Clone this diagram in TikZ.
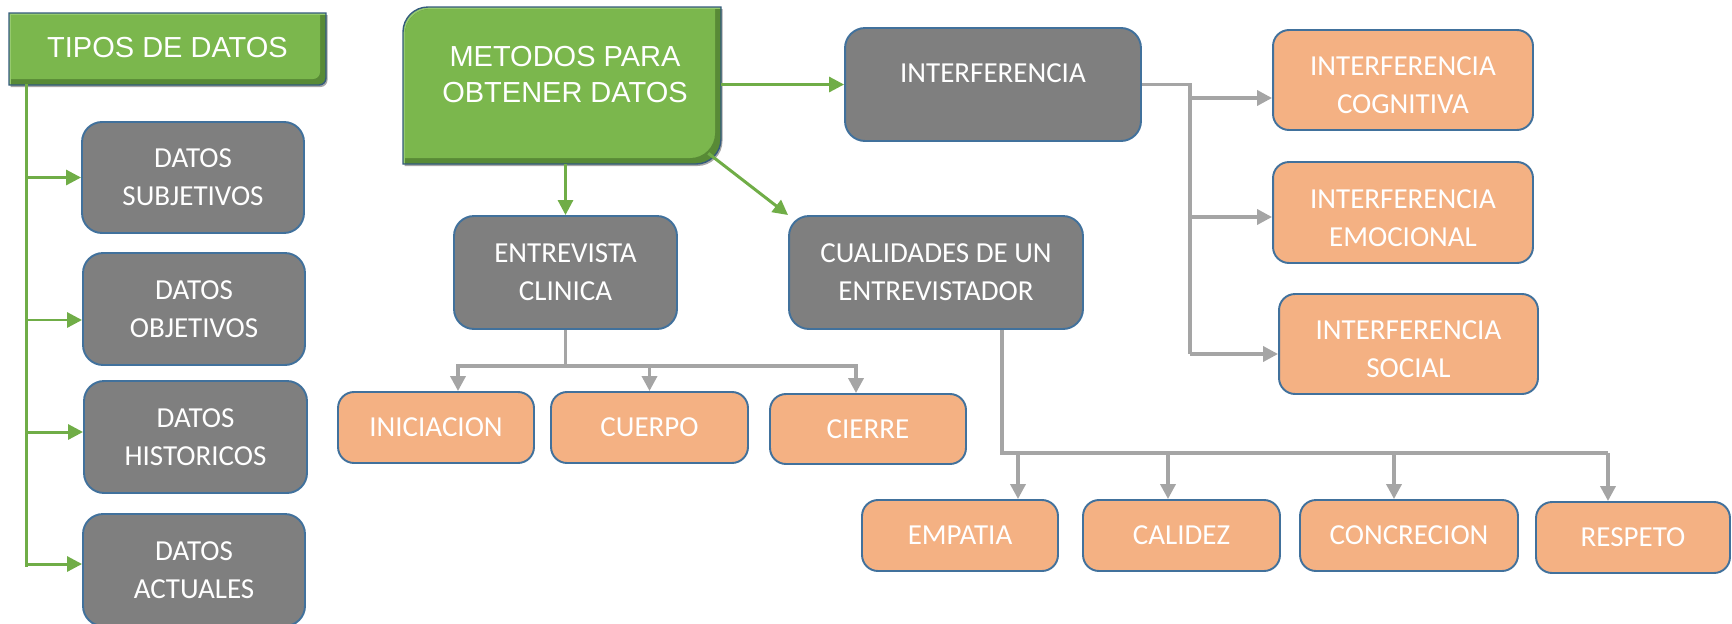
\documentclass[tikz,border=0pt]{standalone}
\usepackage{fontspec}
\setmainfont{Carlito}
\newfontfamily\arialfont{Liberation Sans}
\usetikzlibrary{arrows.meta}

\definecolor{boxgray}{RGB}{127,127,127}
\definecolor{peach}{RGB}{244,177,131}
\definecolor{boxborder}{RGB}{65,113,156}
\definecolor{greenmain}{RGB}{123,183,77}
\definecolor{greenlight}{RGB}{150,202,110}
\definecolor{greendark}{RGB}{88,138,54}
\definecolor{arrowgreen}{RGB}{112,173,71}
\definecolor{linegray}{RGB}{165,165,165}

\tikzset{
	box/.style={draw=boxborder, line width=1.1pt, text=white, align=center, inner sep=0pt,
		font=\fontsize{16.5}{21.6}\selectfont},
	graybox/.style={box, fill=boxgray, rounded corners=0.4cm},
	peachbox/.style={box, fill=peach, rounded corners=0.32cm},
	greentxt/.style={text=white, align=center, inner sep=0pt,
		font=\arialfont\fontsize{16.5}{20.5}\selectfont},
	greenline/.style={draw=arrowgreen, line width=1.7pt},
	greenarrow/.style={greenline, -{Triangle[length=0.3cm,width=0.3cm]}},
	grayline/.style={draw=linegray, line width=2pt},
	grayarrow/.style={grayline, -{Triangle[length=0.3cm,width=0.3cm]}}
}

% outlines of the two green title shapes
\newcommand{\tipospath}{(9,13) -- (326,13) -- (326,78) .. controls (326,81.9) and (322.9,85) .. (319,85) -- (9,85) -- cycle}
\newcommand{\metodospath}{(403,32) .. controls (403,18.2) and (414.2,7) .. (428,7) -- (721,7) -- (721,139) .. controls (721,152.8) and (709.8,164) .. (696,164) -- (403,164) -- cycle}
\newcommand{\bevelshape}[1]{%
	\fill[black, opacity=0.35, shift={(1.5,2)}] #1;
	\begin{scope}
		\clip #1;
		\fill[greenlight] #1;
		\fill[greendark, shift={(2,2)}] #1;
		\begin{scope}
			\clip[shift={(2,2)}] #1;
			\fill[greenmain, shift={(-6,-6)}] #1;
		\end{scope}
	\end{scope}
	\draw[boxborder!80!black, line width=0.8pt] #1;
}

\begin{document}
\begin{tikzpicture}[x=0.02cm, y=-0.02cm]
		\useasboundingbox (0,0) rectangle (1732,623);

		% green title shapes
		\bevelshape{\tipospath}
		\bevelshape{\metodospath}

		\node[greentxt, minimum width=6.34cm, minimum height=1.44cm] (tipos) at (167.5,48) {TIPOS DE DATOS};
		\node[minimum width=6.36cm, minimum height=3.14cm, inner sep=0pt] (metodos) at (562,85.5) {};
		\node[greentxt] (metodostxt) at (565,75) {METODOS PARA\\OBTENER DATOS};

		% left column
		\node[graybox, minimum width=4.44cm, minimum height=2.22cm] (subj) at (193,177.5) {DATOS\\SUBJETIVOS};
		\node[graybox, minimum width=4.44cm, minimum height=2.24cm] (obj) at (194,309) {DATOS\\OBJETIVOS};
		\node[graybox, minimum width=4.46cm, minimum height=2.24cm] (hist) at (195.5,437) {DATOS\\HISTORICOS};
		\node[graybox, minimum width=4.44cm, minimum height=2.24cm] (act) at (194,570) {DATOS\\ACTUALES};

		% second level
		\node[graybox, minimum width=5.92cm, minimum height=2.26cm, text height=10.6pt, text depth=13.1pt] (interf) at (993,84.5) {INTERFERENCIA};
		\node[graybox, minimum width=4.46cm, minimum height=2.26cm] (entrev) at (565.5,272.5) {ENTREVISTA\\CLINICA};
		\node[graybox, minimum width=5.88cm, minimum height=2.26cm] (cualid) at (936,272.5) {CUALIDADES DE UN\\ENTREVISTADOR};

		% interferencias
		\node[peachbox, minimum width=5.2cm, minimum height=2.0cm] (cogn) at (1403,80) {\rule{0pt}{17pt}INTERFERENCIA\\COGNITIVA};
		\node[peachbox, minimum width=5.2cm, minimum height=2.02cm] (emoc) at (1403,212.5) {\rule{0pt}{17pt}INTERFERENCIA\\EMOCIONAL};
		\node[peachbox, minimum width=5.18cm, minimum height=2.0cm] (social) at (1408.5,344) {\rule{0pt}{17pt}INTERFERENCIA\\SOCIAL};

		% partes de la entrevista
		\node[peachbox, minimum width=3.92cm, minimum height=1.42cm] (inic) at (436,427.5) {INICIACION};
		\node[peachbox, minimum width=3.94cm, minimum height=1.42cm] (cuerpo) at (649.5,427.5) {CUERPO};
		\node[peachbox, minimum width=3.92cm, minimum height=1.40cm] (cierre) at (868,429) {CIERRE};

		% cualidades
		\node[peachbox, minimum width=3.92cm, minimum height=1.42cm] (empatia) at (960,535.5) {EMPATIA};
		\node[peachbox, minimum width=3.94cm, minimum height=1.42cm] (calidez) at (1181.5,535.5) {CALIDEZ};
		\node[peachbox, minimum width=4.36cm, minimum height=1.42cm] (concrecion) at (1409,535.5) {CONCRECION};
		\node[peachbox, minimum width=3.88cm, minimum height=1.42cm] (respeto) at (1633,537.5) {RESPETO};

		% -----------------------------------------------------
		% green connectors
		\draw[greenline] ([xshift=0.36cm]tipos.south west) coordinate (trunk) -- ([yshift=0.06cm]trunk |- act.west);
		\draw[greenarrow] (trunk |- subj.west) -- (subj.west);
		\draw[greenarrow] ([yshift=-0.22cm]trunk |- obj.west) -- ([yshift=-0.22cm]obj.west);
		\draw[greenarrow] ([yshift=0.1cm]trunk |- hist.west) -- ([yshift=0.1cm]hist.west);
		\draw[greenarrow] ([yshift=0.12cm]trunk |- act.west) -- ([yshift=0.12cm]act.west);

		\draw[greenarrow] (metodos.east |- interf.west) -- (interf.west);
		\draw[greenarrow] (metodos.south -| entrev.north) -- (entrev.north);
		\draw[greenarrow] ([shift={(-13,-11)}]metodos.south east) -- (cualid.north west);

		% -----------------------------------------------------
		% gray connectors
		\coordinate (icog) at (1190,98);
		\coordinate (iemo) at (1190,217);
		\coordinate (isoc) at (1190,354);
		\draw[grayline] (interf.east) -| (isoc);
		\draw[grayarrow] (icog) -- (icog -| cogn.west);
		\draw[grayarrow] (iemo) -- (iemo -| emoc.west);
		\draw[grayarrow] (isoc) -- (isoc -| social.west);

		\coordinate (ebl) at (458,366);
		\coordinate (ebr) at (856,366);
		\draw[grayline] (entrev.south) -- (entrev.south |- ebl);
		\draw[grayline, line cap=rect] (ebl) -- (ebr);
		\draw[grayarrow] (ebl) -- (ebl |- inic.north);
		\draw[grayarrow] (ebl -| cuerpo.north) -- (cuerpo.north);
		\draw[grayarrow] (ebr) -- (ebr |- cierre.north);

		\coordinate (cbl) at (1002,453);
		\coordinate (cemp) at (1018,453);
		\coordinate (ccal) at (1168,453);
		\coordinate (ccon) at (1394,453);
		\coordinate (cres) at (1608,453);
		\draw[grayline] (cualid.south -| cbl) -- (cbl) -- (cres);
		\draw[grayarrow] (cemp) -- (cemp |- empatia.north);
		\draw[grayarrow] (ccal) -- (ccal |- calidez.north);
		\draw[grayarrow] (ccon) -- (ccon |- concrecion.north);
		\draw[grayarrow] (cres) -- (cres |- respeto.north);

\end{tikzpicture}
\end{document}
